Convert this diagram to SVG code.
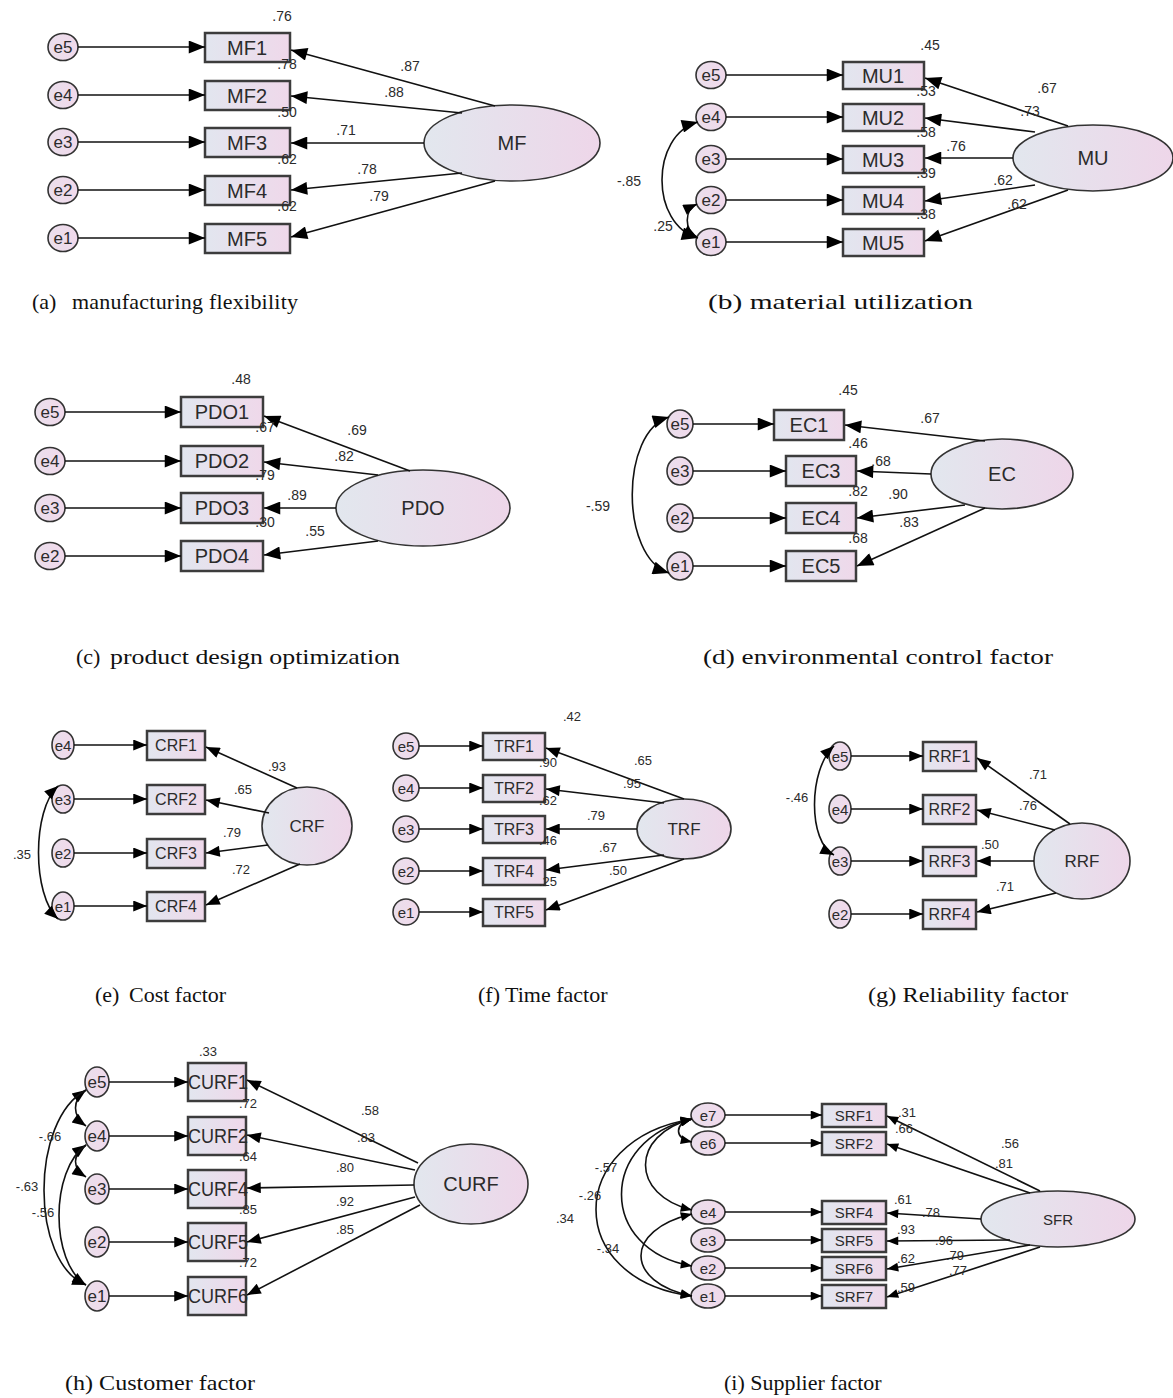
<svg xmlns="http://www.w3.org/2000/svg" width="1173" height="1398" viewBox="0 0 1173 1398">
<defs>
<linearGradient id="gb" x1="0" y1="0" x2="1" y2="0"><stop offset="0" stop-color="#e2e6ef"/><stop offset="1" stop-color="#efd8ea"/></linearGradient>
<linearGradient id="gl" x1="0" y1="0" x2="1" y2="0"><stop offset="0" stop-color="#e2e7ee"/><stop offset="1" stop-color="#eed6e9"/></linearGradient>
<linearGradient id="ge" x1="0" y1="0" x2="1" y2="0"><stop offset="0" stop-color="#eadfec"/><stop offset="1" stop-color="#f1d9eb"/></linearGradient>
<marker id="m1" viewBox="0 0 10 8" refX="10" refY="4" markerWidth="20" markerHeight="13" markerUnits="userSpaceOnUse" orient="auto-start-reverse"><path d="M0,0L10,4L0,8z" fill="#000"/></marker>
<marker id="m2" viewBox="0 0 10 8" refX="10" refY="4" markerWidth="16" markerHeight="11" markerUnits="userSpaceOnUse" orient="auto-start-reverse"><path d="M0,0L10,4L0,8z" fill="#000"/></marker>
<marker id="m3" viewBox="0 0 10 8" refX="10" refY="4" markerWidth="14" markerHeight="9" markerUnits="userSpaceOnUse" orient="auto-start-reverse"><path d="M0,0L10,4L0,8z" fill="#000"/></marker>
</defs>
<style>
.e{fill:url(#ge);stroke:#333;stroke-width:1.6}
.b{fill:url(#gb);stroke:#3c3c3c;stroke-width:2.5}
.l{fill:url(#gl);stroke:#333;stroke-width:1.6}
.c{fill:none;stroke:#111;stroke-width:1.6}
text{font-family:"Liberation Sans",Arial,sans-serif;text-anchor:middle;dominant-baseline:central;fill:#2b2b2b}
.n{font-size:14px}
.s{font-size:13px}
.f20{font-size:20px}
.f18{font-size:18px}
.f17{font-size:17px}
.f16{font-size:16px}
.f15{font-size:15px}
.cap{font-family:"Liberation Serif","Times New Roman",serif;font-size:22px;text-anchor:start;dominant-baseline:auto;fill:#111}
</style>
<rect width="1173" height="1398" fill="#fff"/>

<!-- ============ (a) ============ -->
<g id="a-e5"><ellipse class="e" cx="63" cy="47" rx="15" ry="13.5"/><text class="f17" x="63" y="47">e5</text></g>
<g id="a-e4"><ellipse class="e" cx="63" cy="95" rx="15" ry="13.5"/><text class="f17" x="63" y="95">e4</text></g>
<g id="a-e3"><ellipse class="e" cx="63" cy="142" rx="15" ry="13.5"/><text class="f17" x="63" y="142">e3</text></g>
<g id="a-e2"><ellipse class="e" cx="63" cy="190" rx="15" ry="13.5"/><text class="f17" x="63" y="190">e2</text></g>
<g id="a-e1"><ellipse class="e" cx="63" cy="238" rx="15" ry="13.5"/><text class="f17" x="63" y="238">e1</text></g>
<g id="a-MF1"><rect class="b" x="205" y="33" width="85" height="29"/><text class="f20" x="247" y="47.5">MF1</text></g>
<g id="a-MF2"><rect class="b" x="205" y="81" width="85" height="29"/><text class="f20" x="247" y="95.5">MF2</text></g>
<g id="a-MF3"><rect class="b" x="205" y="128" width="85" height="29"/><text class="f20" x="247" y="142.5">MF3</text></g>
<g id="a-MF4"><rect class="b" x="205" y="176" width="85" height="29"/><text class="f20" x="247" y="190.5">MF4</text></g>
<g id="a-MF5"><rect class="b" x="205" y="224" width="85" height="29"/><text class="f20" x="247" y="238.5">MF5</text></g>
<g id="a-MF"><ellipse class="l" cx="512" cy="143" rx="88" ry="38"/><text class="f20" x="512" y="143">MF</text></g>
<g id="a-connectors">
<path class="c" d="M78,47H205" marker-end="url(#m1)"/>
<path class="c" d="M78,95H205" marker-end="url(#m1)"/>
<path class="c" d="M78,142H205" marker-end="url(#m1)"/>
<path class="c" d="M78,190H205" marker-end="url(#m1)"/>
<path class="c" d="M78,238H205" marker-end="url(#m1)"/>
<path class="c" d="M495,106L291,50" marker-end="url(#m1)"/>
<path class="c" d="M462,113L291,96" marker-end="url(#m1)"/>
<path class="c" d="M424,143H291" marker-end="url(#m1)"/>
<path class="c" d="M462,173L291,190" marker-end="url(#m1)"/>
<path class="c" d="M495,181L291,237" marker-end="url(#m1)"/>
</g>
<g id="a-labels">
<text class="n" x="282" y="16">.76</text>
<text class="n" x="287" y="64">.78</text>
<text class="n" x="287" y="112">.50</text>
<text class="n" x="287" y="159">.62</text>
<text class="n" x="287" y="206">.62</text>
<text class="n" x="410" y="66">.87</text>
<text class="n" x="394" y="92">.88</text>
<text class="n" x="346" y="130">.71</text>
<text class="n" x="367" y="169">.78</text>
<text class="n" x="379" y="196">.79</text>
</g>
<text class="cap" x="32" y="309">(a)</text><text class="cap" x="72" y="309" textLength="226">manufacturing flexibility</text>

<!-- ============ (b) ============ -->
<g id="b-e5"><ellipse class="e" cx="711" cy="75" rx="15" ry="13.5"/><text class="f17" x="711" y="75">e5</text></g>
<g id="b-e4"><ellipse class="e" cx="711" cy="117" rx="15" ry="13.5"/><text class="f17" x="711" y="117">e4</text></g>
<g id="b-e3"><ellipse class="e" cx="711" cy="159" rx="15" ry="13.5"/><text class="f17" x="711" y="159">e3</text></g>
<g id="b-e2"><ellipse class="e" cx="711" cy="200" rx="15" ry="13.5"/><text class="f17" x="711" y="200">e2</text></g>
<g id="b-e1"><ellipse class="e" cx="711" cy="242" rx="15" ry="13.5"/><text class="f17" x="711" y="242">e1</text></g>
<g id="b-MU1"><rect class="b" x="843" y="62" width="81" height="27"/><text class="f20" x="883" y="75.5">MU1</text></g>
<g id="b-MU2"><rect class="b" x="843" y="104" width="81" height="27"/><text class="f20" x="883" y="117.5">MU2</text></g>
<g id="b-MU3"><rect class="b" x="843" y="146" width="81" height="27"/><text class="f20" x="883" y="159.5">MU3</text></g>
<g id="b-MU4"><rect class="b" x="843" y="187" width="81" height="27"/><text class="f20" x="883" y="200.5">MU4</text></g>
<g id="b-MU5"><rect class="b" x="843" y="229" width="81" height="27"/><text class="f20" x="883" y="242.5">MU5</text></g>
<g id="b-MU"><ellipse class="l" cx="1093" cy="158" rx="80" ry="33"/><text class="f20" x="1093" y="158">MU</text></g>
<g id="b-connectors">
<path class="c" d="M726,75H843" marker-end="url(#m1)"/>
<path class="c" d="M726,117H843" marker-end="url(#m1)"/>
<path class="c" d="M726,159H843" marker-end="url(#m1)"/>
<path class="c" d="M726,200H843" marker-end="url(#m1)"/>
<path class="c" d="M726,242H843" marker-end="url(#m1)"/>
<path class="c" d="M1068,126L925,78" marker-end="url(#m1)"/>
<path class="c" d="M1035,132L925,118" marker-end="url(#m1)"/>
<path class="c" d="M1013,158H925" marker-end="url(#m1)"/>
<path class="c" d="M1035,185L925,201" marker-end="url(#m1)"/>
<path class="c" d="M1068,190L925,241" marker-end="url(#m1)"/>
<path class="c" d="M698,122C650,135 650,225 698,238" marker-start="url(#m1)" marker-end="url(#m1)"/>
<path class="c" d="M697,204C684,210 684,230 697,237" marker-start="url(#m2)" marker-end="url(#m2)"/>
</g>
<g id="b-labels">
<text class="n" x="930" y="45">.45</text>
<text class="n" x="926" y="91">.53</text>
<text class="n" x="926" y="132">.58</text>
<text class="n" x="926" y="173">.39</text>
<text class="n" x="926" y="214">.38</text>
<text class="n" x="1047" y="88">.67</text>
<text class="n" x="1030" y="111">.73</text>
<text class="n" x="956" y="146">.76</text>
<text class="n" x="1003" y="180">.62</text>
<text class="n" x="1017" y="204">.62</text>
<text class="n" x="629" y="181">-.85</text>
<text class="n" x="663" y="226">.25</text>
</g>
<text class="cap" x="708" y="309" textLength="265" lengthAdjust="spacingAndGlyphs">(b) material utilization</text>

<!-- ============ (c) ============ -->
<g id="c-e5"><ellipse class="e" cx="50" cy="412" rx="15" ry="13.5"/><text class="f17" x="50" y="412">e5</text></g>
<g id="c-e4"><ellipse class="e" cx="50" cy="461" rx="15" ry="13.5"/><text class="f17" x="50" y="461">e4</text></g>
<g id="c-e3"><ellipse class="e" cx="50" cy="508" rx="15" ry="13.5"/><text class="f17" x="50" y="508">e3</text></g>
<g id="c-e2"><ellipse class="e" cx="50" cy="556" rx="15" ry="13.5"/><text class="f17" x="50" y="556">e2</text></g>
<g id="c-PDO1"><rect class="b" x="181" y="397" width="82" height="30"/><text class="f20" x="222" y="412">PDO1</text></g>
<g id="c-PDO2"><rect class="b" x="181" y="446" width="82" height="30"/><text class="f20" x="222" y="461">PDO2</text></g>
<g id="c-PDO3"><rect class="b" x="181" y="493" width="82" height="30"/><text class="f20" x="222" y="508">PDO3</text></g>
<g id="c-PDO4"><rect class="b" x="181" y="541" width="82" height="30"/><text class="f20" x="222" y="556">PDO4</text></g>
<g id="c-PDO"><ellipse class="l" cx="423" cy="508" rx="87" ry="38"/><text class="f20" x="423" y="508">PDO</text></g>
<g id="c-connectors">
<path class="c" d="M65,412H181" marker-end="url(#m1)"/>
<path class="c" d="M65,461H181" marker-end="url(#m1)"/>
<path class="c" d="M65,508H181" marker-end="url(#m1)"/>
<path class="c" d="M65,556H181" marker-end="url(#m1)"/>
<path class="c" d="M410,471L264,416" marker-end="url(#m1)"/>
<path class="c" d="M378,475L264,462" marker-end="url(#m1)"/>
<path class="c" d="M336,508H264" marker-end="url(#m1)"/>
<path class="c" d="M378,541L264,555" marker-end="url(#m1)"/>
</g>
<g id="c-labels">
<text class="n" x="241" y="379">.48</text>
<text class="n" x="265" y="427">.67</text>
<text class="n" x="265" y="475">.79</text>
<text class="n" x="265" y="522">.30</text>
<text class="n" x="357" y="430">.69</text>
<text class="n" x="344" y="456">.82</text>
<text class="n" x="297" y="495">.89</text>
<text class="n" x="315" y="531">.55</text>
</g>
<text class="cap" x="76" y="664">(c)</text><text class="cap" x="110" y="664" textLength="290" lengthAdjust="spacingAndGlyphs">product design optimization</text>

<!-- ============ (d) ============ -->
<g id="d-e5"><ellipse class="e" cx="680" cy="424" rx="13" ry="14"/><text class="f17" x="680" y="424">e5</text></g>
<g id="d-e3"><ellipse class="e" cx="680" cy="471" rx="13" ry="14"/><text class="f17" x="680" y="471">e3</text></g>
<g id="d-e2"><ellipse class="e" cx="680" cy="518" rx="13" ry="14"/><text class="f17" x="680" y="518">e2</text></g>
<g id="d-e1"><ellipse class="e" cx="680" cy="566" rx="13" ry="14"/><text class="f17" x="680" y="566">e1</text></g>
<g id="d-EC1"><rect class="b" x="774" y="410" width="70" height="30"/><text class="f20" x="809" y="425">EC1</text></g>
<g id="d-EC3"><rect class="b" x="786" y="456" width="70" height="30"/><text class="f20" x="821" y="471">EC3</text></g>
<g id="d-EC4"><rect class="b" x="786" y="503" width="70" height="30"/><text class="f20" x="821" y="518">EC4</text></g>
<g id="d-EC5"><rect class="b" x="786" y="551" width="70" height="30"/><text class="f20" x="821" y="566">EC5</text></g>
<g id="d-EC"><ellipse class="l" cx="1002" cy="474" rx="71" ry="35"/><text class="f20" x="1002" y="474">EC</text></g>
<g id="d-connectors">
<path class="c" d="M693,424H774" marker-end="url(#m1)"/>
<path class="c" d="M693,471H786" marker-end="url(#m1)"/>
<path class="c" d="M693,518H786" marker-end="url(#m1)"/>
<path class="c" d="M693,566H786" marker-end="url(#m1)"/>
<path class="c" d="M985,441L845,425" marker-end="url(#m1)"/>
<path class="c" d="M931,474L857,471" marker-end="url(#m1)"/>
<path class="c" d="M965,505L857,518" marker-end="url(#m1)"/>
<path class="c" d="M985,508L857,566" marker-end="url(#m1)"/>
<path class="c" d="M669,417C620,432 620,557 669,573" marker-start="url(#m1)" marker-end="url(#m1)"/>
</g>
<g id="d-labels">
<text class="n" x="848" y="390">.45</text>
<text class="n" x="930" y="418">.67</text>
<text class="n" x="858" y="443">.46</text>
<text class="n" x="881" y="461">.68</text>
<text class="n" x="858" y="491">.82</text>
<text class="n" x="898" y="494">.90</text>
<text class="n" x="909" y="522">.83</text>
<text class="n" x="858" y="538">.68</text>
<text class="n" x="598" y="506">-.59</text>
</g>
<text class="cap" x="703" y="664" textLength="350" lengthAdjust="spacingAndGlyphs">(d) environmental control factor</text>

<!-- ============ (e) ============ -->
<g id="e-e4"><ellipse class="e" cx="63" cy="745" rx="11" ry="14"/><text class="f15" x="63" y="745">e4</text></g>
<g id="e-e3"><ellipse class="e" cx="63" cy="799" rx="11" ry="14"/><text class="f15" x="63" y="799">e3</text></g>
<g id="e-e2"><ellipse class="e" cx="63" cy="853" rx="11" ry="14"/><text class="f15" x="63" y="853">e2</text></g>
<g id="e-e1"><ellipse class="e" cx="63" cy="906" rx="11" ry="14"/><text class="f15" x="63" y="906">e1</text></g>
<g id="e-CRF1"><rect class="b" x="147" y="731" width="58" height="29"/><text class="f16" x="176" y="745.5">CRF1</text></g>
<g id="e-CRF2"><rect class="b" x="147" y="785" width="58" height="29"/><text class="f16" x="176" y="799.5">CRF2</text></g>
<g id="e-CRF3"><rect class="b" x="147" y="839" width="58" height="29"/><text class="f16" x="176" y="853.5">CRF3</text></g>
<g id="e-CRF4"><rect class="b" x="147" y="892" width="58" height="29"/><text class="f16" x="176" y="906.5">CRF4</text></g>
<g id="e-CRF"><ellipse class="l" cx="307" cy="826" rx="45" ry="39"/><text class="f17" x="307" y="826">CRF</text></g>
<g id="e-connectors">
<path class="c" d="M74,745H147" marker-end="url(#m2)"/>
<path class="c" d="M74,799H147" marker-end="url(#m2)"/>
<path class="c" d="M74,853H147" marker-end="url(#m2)"/>
<path class="c" d="M74,906H147" marker-end="url(#m2)"/>
<path class="c" d="M297,788L206,747" marker-end="url(#m2)"/>
<path class="c" d="M269,813L206,800" marker-end="url(#m2)"/>
<path class="c" d="M268,845L206,853" marker-end="url(#m2)"/>
<path class="c" d="M300,864L206,905" marker-end="url(#m2)"/>
<path class="c" d="M58,786C32,810 32,895 58,919" marker-start="url(#m2)" marker-end="url(#m2)"/>
</g>
<g id="e-labels">
<text class="s" x="277" y="766">.93</text>
<text class="s" x="243" y="789">.65</text>
<text class="s" x="232" y="832">.79</text>
<text class="s" x="241" y="869">.72</text>
<text class="s" x="22" y="854">.35</text>
</g>
<text class="cap" x="95" y="1002">(e)</text><text class="cap" x="129" y="1002">Cost factor</text>

<!-- ============ (f) ============ -->
<g id="f-e5"><ellipse class="e" cx="406" cy="746" rx="13" ry="13"/><text class="f15" x="406" y="746">e5</text></g>
<g id="f-e4"><ellipse class="e" cx="406" cy="788" rx="13" ry="13"/><text class="f15" x="406" y="788">e4</text></g>
<g id="f-e3"><ellipse class="e" cx="406" cy="829" rx="13" ry="13"/><text class="f15" x="406" y="829">e3</text></g>
<g id="f-e2"><ellipse class="e" cx="406" cy="871" rx="13" ry="13"/><text class="f15" x="406" y="871">e2</text></g>
<g id="f-e1"><ellipse class="e" cx="406" cy="912" rx="13" ry="13"/><text class="f15" x="406" y="912">e1</text></g>
<g id="f-TRF1"><rect class="b" x="483" y="733" width="62" height="27"/><text class="f16" x="514" y="746.5">TRF1</text></g>
<g id="f-TRF2"><rect class="b" x="483" y="775" width="62" height="27"/><text class="f16" x="514" y="788.5">TRF2</text></g>
<g id="f-TRF3"><rect class="b" x="483" y="816" width="62" height="27"/><text class="f16" x="514" y="829.5">TRF3</text></g>
<g id="f-TRF4"><rect class="b" x="483" y="858" width="62" height="27"/><text class="f16" x="514" y="871.5">TRF4</text></g>
<g id="f-TRF5"><rect class="b" x="483" y="899" width="62" height="27"/><text class="f16" x="514" y="912.5">TRF5</text></g>
<g id="f-TRF"><ellipse class="l" cx="684" cy="829" rx="47" ry="30"/><text class="f17" x="684" y="829">TRF</text></g>
<g id="f-connectors">
<path class="c" d="M419,746H483" marker-end="url(#m2)"/>
<path class="c" d="M419,788H483" marker-end="url(#m2)"/>
<path class="c" d="M419,829H483" marker-end="url(#m2)"/>
<path class="c" d="M419,871H483" marker-end="url(#m2)"/>
<path class="c" d="M419,912H483" marker-end="url(#m2)"/>
<path class="c" d="M684,799L546,748" marker-end="url(#m2)"/>
<path class="c" d="M664,803L546,789" marker-end="url(#m2)"/>
<path class="c" d="M637,829H546" marker-end="url(#m2)"/>
<path class="c" d="M664,855L546,870" marker-end="url(#m2)"/>
<path class="c" d="M684,859L546,910" marker-end="url(#m2)"/>
</g>
<g id="f-labels">
<text class="s" x="572" y="716">.42</text>
<text class="s" x="643" y="760">.65</text>
<text class="s" x="548" y="762">.90</text>
<text class="s" x="632" y="783">.95</text>
<text class="s" x="548" y="800">.62</text>
<text class="s" x="596" y="815">.79</text>
<text class="s" x="548" y="840">.46</text>
<text class="s" x="608" y="847">.67</text>
<text class="s" x="618" y="870">.50</text>
<text class="s" x="548" y="881">.25</text>
</g>
<text class="cap" x="478" y="1002">(f) Time factor</text>

<!-- ============ (g) ============ -->
<g id="g-e5"><ellipse class="e" cx="840" cy="756" rx="11" ry="14"/><text class="f15" x="840" y="756">e5</text></g>
<g id="g-e4"><ellipse class="e" cx="840" cy="809" rx="11" ry="14"/><text class="f15" x="840" y="809">e4</text></g>
<g id="g-e3"><ellipse class="e" cx="840" cy="861" rx="11" ry="14"/><text class="f15" x="840" y="861">e3</text></g>
<g id="g-e2"><ellipse class="e" cx="840" cy="914" rx="11" ry="14"/><text class="f15" x="840" y="914">e2</text></g>
<g id="g-RRF1"><rect class="b" x="923" y="742" width="53" height="29"/><text class="f16" x="949.5" y="756.5">RRF1</text></g>
<g id="g-RRF2"><rect class="b" x="923" y="795" width="53" height="29"/><text class="f16" x="949.5" y="809.5">RRF2</text></g>
<g id="g-RRF3"><rect class="b" x="923" y="847" width="53" height="29"/><text class="f16" x="949.5" y="861.5">RRF3</text></g>
<g id="g-RRF4"><rect class="b" x="923" y="900" width="53" height="29"/><text class="f16" x="949.5" y="914.5">RRF4</text></g>
<g id="g-RRF"><ellipse class="l" cx="1082" cy="861" rx="48" ry="38"/><text class="f17" x="1082" y="861">RRF</text></g>
<g id="g-connectors">
<path class="c" d="M851,756H923" marker-end="url(#m2)"/>
<path class="c" d="M851,809H923" marker-end="url(#m2)"/>
<path class="c" d="M851,861H923" marker-end="url(#m2)"/>
<path class="c" d="M851,914H923" marker-end="url(#m2)"/>
<path class="c" d="M1070,824L977,758" marker-end="url(#m2)"/>
<path class="c" d="M1055,830L977,810" marker-end="url(#m2)"/>
<path class="c" d="M1034,861H977" marker-end="url(#m2)"/>
<path class="c" d="M1056,893L977,912" marker-end="url(#m2)"/>
<path class="c" d="M834,746C808,770 808,842 834,855" marker-start="url(#m2)" marker-end="url(#m2)"/>
</g>
<g id="g-labels">
<text class="s" x="1038" y="774">.71</text>
<text class="s" x="1028" y="805">.76</text>
<text class="s" x="990" y="844">.50</text>
<text class="s" x="1005" y="886">.71</text>
<text class="s" x="797" y="797">-.46</text>
</g>
<text class="cap" x="868" y="1002" textLength="200" lengthAdjust="spacingAndGlyphs">(g) Reliability factor</text>

<!-- ============ (h) ============ -->
<g id="h-e5"><ellipse class="e" cx="97" cy="1082" rx="12" ry="15"/><text class="f17" x="97" y="1082">e5</text></g>
<g id="h-e4"><ellipse class="e" cx="97" cy="1136" rx="12" ry="15"/><text class="f17" x="97" y="1136">e4</text></g>
<g id="h-e3"><ellipse class="e" cx="97" cy="1189" rx="12" ry="15"/><text class="f17" x="97" y="1189">e3</text></g>
<g id="h-e2"><ellipse class="e" cx="97" cy="1242" rx="12" ry="15"/><text class="f17" x="97" y="1242">e2</text></g>
<g id="h-e1"><ellipse class="e" cx="97" cy="1296" rx="12" ry="15"/><text class="f17" x="97" y="1296">e1</text></g>
<g id="h-CURF1"><rect class="b" x="188" y="1063" width="58" height="38"/><text class="f20" x="218" y="1082" textLength="60" lengthAdjust="spacingAndGlyphs">CURF1</text></g>
<g id="h-CURF2"><rect class="b" x="188" y="1117" width="58" height="38"/><text class="f20" x="218" y="1136" textLength="60" lengthAdjust="spacingAndGlyphs">CURF2</text></g>
<g id="h-CURF4"><rect class="b" x="188" y="1170" width="58" height="38"/><text class="f20" x="218" y="1189" textLength="60" lengthAdjust="spacingAndGlyphs">CURF4</text></g>
<g id="h-CURF5"><rect class="b" x="188" y="1223" width="58" height="38"/><text class="f20" x="218" y="1242" textLength="60" lengthAdjust="spacingAndGlyphs">CURF5</text></g>
<g id="h-CURF6"><rect class="b" x="188" y="1277" width="58" height="38"/><text class="f20" x="218" y="1296" textLength="60" lengthAdjust="spacingAndGlyphs">CURF6</text></g>
<g id="h-CURF"><ellipse class="l" cx="471" cy="1184" rx="57" ry="40"/><text class="f20" x="471" y="1184">CURF</text></g>
<g id="h-connectors">
<path class="c" d="M109,1082H188" marker-end="url(#m2)"/>
<path class="c" d="M109,1136H188" marker-end="url(#m2)"/>
<path class="c" d="M109,1189H188" marker-end="url(#m2)"/>
<path class="c" d="M109,1242H188" marker-end="url(#m2)"/>
<path class="c" d="M109,1296H188" marker-end="url(#m2)"/>
<path class="c" d="M418,1163L247,1080" marker-end="url(#m2)"/>
<path class="c" d="M415,1170L247,1135" marker-end="url(#m2)"/>
<path class="c" d="M414,1185L247,1188" marker-end="url(#m2)"/>
<path class="c" d="M415,1197L247,1242" marker-end="url(#m2)"/>
<path class="c" d="M420,1205L247,1295" marker-end="url(#m2)"/>
<path class="c" d="M86,1090C72,1100 72,1116 86,1126" marker-start="url(#m2)" marker-end="url(#m2)"/>
<path class="c" d="M86,1145C72,1155 72,1168 86,1177" marker-start="url(#m2)" marker-end="url(#m2)"/>
<path class="c" d="M86,1090C30,1120 30,1262 86,1285" marker-end="url(#m2)"/>
<path class="c" d="M86,1145C50,1170 50,1262 86,1285" marker-end="url(#m2)"/>
</g>
<g id="h-labels">
<text class="s" x="208" y="1051">.33</text>
<text class="s" x="248" y="1103">.72</text>
<text class="s" x="248" y="1156">.64</text>
<text class="s" x="248" y="1209">.85</text>
<text class="s" x="248" y="1262">.72</text>
<text class="s" x="370" y="1110">.58</text>
<text class="s" x="366" y="1137">.83</text>
<text class="s" x="345" y="1167">.80</text>
<text class="s" x="345" y="1201">.92</text>
<text class="s" x="345" y="1229">.85</text>
<text class="s" x="50" y="1136">-.66</text>
<text class="s" x="27" y="1186">-.63</text>
<text class="s" x="43" y="1212">-.56</text>
</g>
<text class="cap" x="65" y="1390" textLength="190" lengthAdjust="spacingAndGlyphs">(h) Customer factor</text>

<!-- ============ (i) ============ -->
<g id="i-e7"><ellipse class="e" cx="708" cy="1115" rx="17" ry="12"/><text class="f15" x="708" y="1115">e7</text></g>
<g id="i-e6"><ellipse class="e" cx="708" cy="1143" rx="17" ry="12"/><text class="f15" x="708" y="1143">e6</text></g>
<g id="i-e4"><ellipse class="e" cx="708" cy="1212" rx="17" ry="12"/><text class="f15" x="708" y="1212">e4</text></g>
<g id="i-e3"><ellipse class="e" cx="708" cy="1240" rx="17" ry="12"/><text class="f15" x="708" y="1240">e3</text></g>
<g id="i-e2"><ellipse class="e" cx="708" cy="1268" rx="17" ry="12"/><text class="f15" x="708" y="1268">e2</text></g>
<g id="i-e1"><ellipse class="e" cx="708" cy="1296" rx="17" ry="12"/><text class="f15" x="708" y="1296">e1</text></g>
<g id="i-SRF1"><rect class="b" x="822" y="1104" width="64" height="23"/><text class="f15" x="854" y="1115.5">SRF1</text></g>
<g id="i-SRF2"><rect class="b" x="822" y="1132" width="64" height="23"/><text class="f15" x="854" y="1143.5">SRF2</text></g>
<g id="i-SRF4"><rect class="b" x="822" y="1201" width="64" height="23"/><text class="f15" x="854" y="1212.5">SRF4</text></g>
<g id="i-SRF5"><rect class="b" x="822" y="1229" width="64" height="23"/><text class="f15" x="854" y="1240.5">SRF5</text></g>
<g id="i-SRF6"><rect class="b" x="822" y="1257" width="64" height="23"/><text class="f15" x="854" y="1268.5">SRF6</text></g>
<g id="i-SRF7"><rect class="b" x="822" y="1285" width="64" height="23"/><text class="f15" x="854" y="1296.5">SRF7</text></g>
<g id="i-SFR"><ellipse class="l" cx="1058" cy="1219" rx="77" ry="28"/><text class="f15" x="1058" y="1219">SFR</text></g>
<g id="i-connectors">
<path class="c" d="M725,1115H822" marker-end="url(#m3)"/>
<path class="c" d="M725,1143H822" marker-end="url(#m3)"/>
<path class="c" d="M725,1212H822" marker-end="url(#m3)"/>
<path class="c" d="M725,1240H822" marker-end="url(#m3)"/>
<path class="c" d="M725,1268H822" marker-end="url(#m3)"/>
<path class="c" d="M725,1296H822" marker-end="url(#m3)"/>
<path class="c" d="M1040,1191L887,1116" marker-end="url(#m3)"/>
<path class="c" d="M1030,1193L887,1144" marker-end="url(#m3)"/>
<path class="c" d="M981,1219L887,1213" marker-end="url(#m3)"/>
<path class="c" d="M1010,1240L887,1241" marker-end="url(#m3)"/>
<path class="c" d="M1030,1245L887,1269" marker-end="url(#m3)"/>
<path class="c" d="M1040,1247L887,1297" marker-end="url(#m3)"/>
<path class="c" d="M692,1119C674,1124 674,1138 692,1142" marker-start="url(#m3)" marker-end="url(#m3)"/>
<path class="c" d="M692,1119C630,1135 630,1195 692,1210" marker-start="url(#m3)" marker-end="url(#m3)"/>
<path class="c" d="M692,1119C598,1140 598,1250 692,1266" marker-start="url(#m3)" marker-end="url(#m3)"/>
<path class="c" d="M692,1119C564,1140 564,1280 692,1296" marker-start="url(#m3)" marker-end="url(#m3)"/>
<path class="c" d="M692,1214C624,1230 624,1282 692,1296" marker-start="url(#m3)" marker-end="url(#m3)"/>
</g>
<g id="i-labels">
<text class="s" x="907" y="1112">.31</text>
<text class="s" x="904" y="1128">.66</text>
<text class="s" x="1010" y="1143">.56</text>
<text class="s" x="1004" y="1163">.81</text>
<text class="s" x="903" y="1199">.61</text>
<text class="s" x="931" y="1212">.78</text>
<text class="s" x="906" y="1229">.93</text>
<text class="s" x="944" y="1240">.96</text>
<text class="s" x="955" y="1255">.79</text>
<text class="s" x="906" y="1258">.62</text>
<text class="s" x="958" y="1270">.77</text>
<text class="s" x="906" y="1287">.59</text>
<text class="s" x="606" y="1167">-.57</text>
<text class="s" x="590" y="1195">-.26</text>
<text class="s" x="565" y="1218">.34</text>
<text class="s" x="608" y="1248">-.34</text>
</g>
<text class="cap" x="724" y="1390">(i) Supplier factor</text>
</svg>
